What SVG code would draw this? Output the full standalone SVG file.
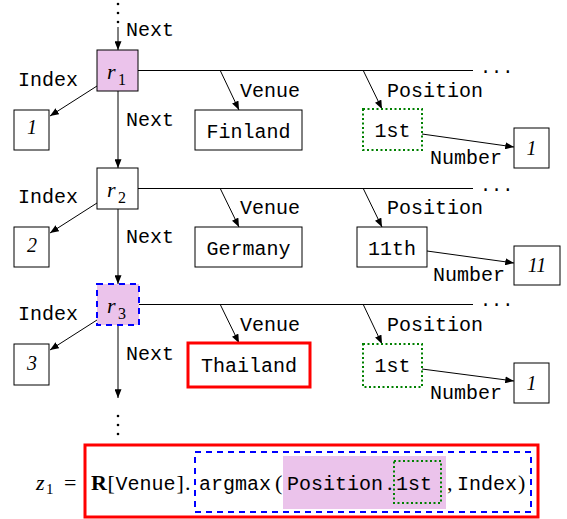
<svg xmlns="http://www.w3.org/2000/svg" width="567" height="519" viewBox="0 0 567 519">
<defs>
<marker id="ah" viewBox="0 0 10 8" refX="10" refY="4" markerWidth="9" markerHeight="7" orient="auto" markerUnits="userSpaceOnUse"><path d="M0,0 L10,4 L0,8 z" fill="#000"/></marker>
</defs>
<style>
.box{fill:#fff;stroke:#000;stroke-width:1}
.pink{fill:#ebc3eb}
.grn{fill:none;stroke:#008000;stroke-width:2;stroke-dasharray:2 2.5}
.blu{stroke:#0000ff;stroke-width:2;stroke-dasharray:6 5}
.red{fill:none;stroke:#ff0000;stroke-width:3}
.mono{font-family:"Liberation Mono","DejaVu Sans Mono",monospace;font-size:20px;fill:#000}
.ser{font-family:"Liberation Serif","DejaVu Serif",serif;font-size:22px;fill:#000}
.it{font-family:"Liberation Serif","DejaVu Serif",serif;font-style:italic;fill:#000}
.c{text-anchor:middle}
.ln{stroke:#000;stroke-width:1;fill:none}
.ar{stroke:#000;stroke-width:1;fill:none;marker-end:url(#ah)}
</style>
<g id="connectors">
<circle cx="118" cy="4" r="1.3"/><circle cx="118" cy="13" r="1.3"/><circle cx="118" cy="22" r="1.3"/>
<line class="ar" x1="118" y1="27" x2="118" y2="50"/>
<line class="ar" x1="118" y1="91" x2="118" y2="168"/>
<line class="ar" x1="118" y1="209" x2="118" y2="284"/>
<line class="ar" x1="118" y1="325" x2="118" y2="398"/>
<circle cx="118" cy="416" r="1.3"/><circle cx="118" cy="425" r="1.3"/><circle cx="118" cy="434" r="1.3"/>
<line class="ar" x1="97" y1="86" x2="50" y2="116"/>
<line class="ar" x1="97" y1="203" x2="50" y2="233"/>
<line class="ar" x1="97" y1="320" x2="50" y2="350"/>
<line class="ln" x1="138" y1="70.5" x2="473" y2="70.5"/>
<line class="ln" x1="138" y1="188.5" x2="473" y2="188.5"/>
<line class="ln" x1="139" y1="304.5" x2="473" y2="304.5"/>
<line class="ar" x1="220" y1="70" x2="239" y2="110"/>
<line class="ar" x1="220" y1="188" x2="239" y2="227"/>
<line class="ar" x1="220" y1="304" x2="239" y2="343"/>
<line class="ar" x1="363" y1="70" x2="382" y2="109"/>
<line class="ar" x1="363" y1="188" x2="382" y2="227"/>
<line class="ar" x1="363" y1="304" x2="382" y2="344"/>
<line class="ar" x1="422" y1="134" x2="514" y2="147"/>
<line class="ar" x1="427" y1="251" x2="514" y2="263"/>
<line class="ar" x1="422" y1="369" x2="514" y2="381"/>
<text class="mono" x="126" y="36">Next</text>
<text class="mono" x="126" y="126">Next</text>
<text class="mono" x="126" y="243">Next</text>
<text class="mono" x="126" y="360">Next</text>
<text class="mono" x="18" y="86">Index</text>
<text class="mono" x="18" y="203">Index</text>
<text class="mono" x="18" y="320">Index</text>
<text class="mono" x="240" y="97">Venue</text>
<text class="mono" x="240" y="214">Venue</text>
<text class="mono" x="240" y="331">Venue</text>
<text class="mono" x="387" y="97">Position</text>
<text class="mono" x="387" y="214">Position</text>
<text class="mono" x="387" y="331">Position</text>
<text class="mono" x="430" y="164">Number</text>
<text class="mono" x="433" y="281">Number</text>
<text class="mono" x="430" y="399">Number</text>
<text class="mono" x="480" y="73" style="font-size:18.5px">...</text>
<text class="mono" x="480" y="191" style="font-size:18.5px">...</text>
<text class="mono" x="480" y="306" style="font-size:18.5px">...</text>
</g>
<g id="r1">
<rect class="box pink" x="97" y="50" width="41" height="41"/>
<text class="it" x="107" y="79" style="font-size:22px">r</text><text class="it" x="118" y="85" style="font-size:16px;font-style:normal">1</text>
</g>
<g id="r2">
<rect class="box" x="97" y="168" width="41" height="41"/>
<text class="it" x="107" y="197" style="font-size:22px">r</text><text class="it" x="118" y="203" style="font-size:16px;font-style:normal">2</text>
</g>
<g id="r3">
<rect class="pink blu" x="97" y="284" width="42" height="41"/>
<text class="it" x="107" y="313" style="font-size:22px">r</text><text class="it" x="118" y="319" style="font-size:16px;font-style:normal">3</text>
</g>
<g id="idx1"><rect class="box" x="14" y="110" width="35" height="40"/><text class="it c" x="32" y="134" style="font-size:20px">1</text></g>
<g id="idx2"><rect class="box" x="14" y="227" width="35" height="40"/><text class="it c" x="32" y="252" style="font-size:20px">2</text></g>
<g id="idx3"><rect class="box" x="14" y="344" width="35" height="41"/><text class="it c" x="32" y="370" style="font-size:20px">3</text></g>
<g id="finland"><rect class="box" x="195" y="110" width="107" height="40"/><text class="mono c" x="248.5" y="138">Finland</text></g>
<g id="germany"><rect class="box" x="195" y="227" width="107" height="40"/><text class="mono c" x="248.5" y="255">Germany</text></g>
<g id="thailand"><rect class="box red" x="188" y="343" width="122" height="44"/><text class="mono c" x="249" y="372">Thailand</text></g>
<g id="pos1"><rect class="grn" x="363" y="109" width="59" height="41"/><text class="mono c" x="392.5" y="137">1st</text></g>
<g id="pos2"><rect class="box" x="357" y="227" width="70" height="40"/><text class="mono c" x="392" y="255">11th</text></g>
<g id="pos3"><rect class="grn" x="363" y="344" width="59" height="43"/><text class="mono c" x="392.5" y="372">1st</text></g>
<g id="num1"><rect class="box" x="514" y="128" width="35" height="40"/><text class="it c" x="531.5" y="155" style="font-size:20px">1</text></g>
<g id="num2"><rect class="box" x="514" y="246" width="46" height="39"/><text class="it c" x="537" y="272" style="font-size:20px">11</text></g>
<g id="num3"><rect class="box" x="514" y="363" width="35" height="40"/><text class="it c" x="531.5" y="390" style="font-size:20px">1</text></g>
<g id="formula">
<rect class="red" x="85" y="445" width="453" height="72"/>
<rect x="283" y="456" width="163" height="53" fill="#ebc3eb"/>
<rect x="195" y="452" width="336" height="60" fill="none" class="blu"/>
<rect class="grn" x="394" y="461" width="47" height="42"/>
<text class="it" x="36" y="490" style="font-size:22px">z</text><text class="ser" x="46" y="494" style="font-size:15px">1</text>
<text class="ser" x="64" y="490">=</text>
<text class="ser" x="91" y="490" style="font-weight:bold">R</text>
<text class="ser" x="107.5" y="490">[</text>
<text class="mono" x="115.5" y="490">Venue</text>
<text class="ser" x="176.5" y="490">]</text>
<text class="ser" x="185" y="490">.</text>
<text class="mono" x="199" y="490">argmax</text>
<text class="ser" x="275" y="490">(</text>
<text class="mono" x="287" y="490">Position</text>
<text class="ser" x="387" y="490">.</text>
<text class="mono" x="396" y="490">1st</text>
<text class="ser" x="447" y="490">,</text>
<text class="mono" x="457" y="490">Index</text>
<text class="ser" x="518" y="490">)</text>
</g>
</svg>
